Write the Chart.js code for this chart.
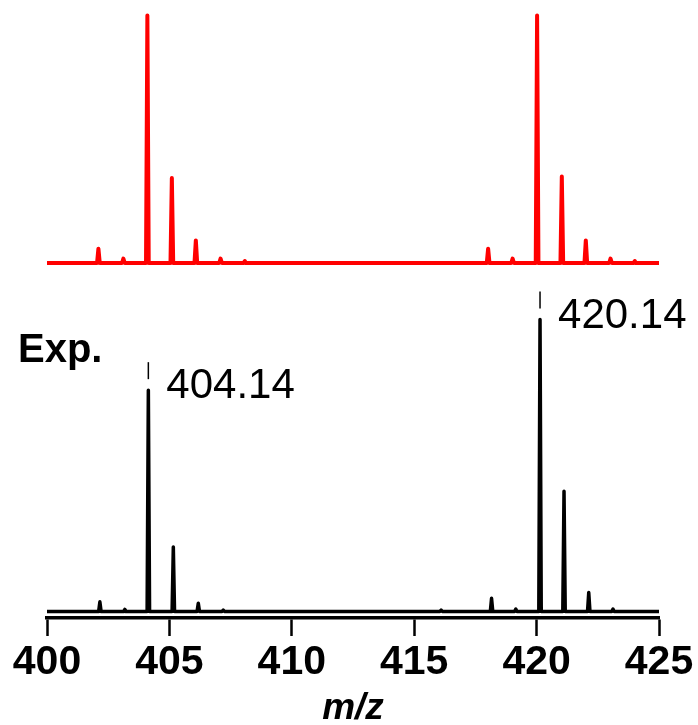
<!DOCTYPE html>
<html>
<head>
<meta charset="utf-8">
<script src="https://cdn.jsdelivr.net/npm/chart.js@4"></script>
<style>
  html, body { margin: 0; padding: 0; background: #fff; }
  canvas { display: block; }
</style>
</head>
<body>
<canvas id="spectrum" width="698" height="725"></canvas>
<script>
// simulated isotope pattern (red), intensity in % of base peak
const simMz = [402.10, 403.12, 404.10, 405.10, 406.08, 407.09, 408.08,
               418.02, 419.02, 420.02, 421.03, 422.01, 423.02, 424.01];
const simIntensity = [5.8, 1.8, 100, 34.3, 9.1, 1.8, 0.8,
                      5.8, 1.8, 100, 34.9, 9.1, 1.8, 0.8];

// experimental spectrum (black)
const expMz = [402.16, 403.18, 404.14, 405.16, 406.18, 407.20, 416.10,
               418.16, 419.15, 420.14, 421.12, 422.13, 423.12];
const expIntensity = [3.3, 0.7, 75.8, 22.1, 2.8, 0.5, 0.5,
                      4.5, 0.8, 100, 41.2, 6.5, 0.8];

const labelledPeaks = [404.14, 420.14];
const mzRange = [400, 425];
const mzTicks = [400, 405, 410, 415, 420, 425];

const FONT = '"Liberation Sans", Arial, Helvetica, sans-serif';

// turn a peak list into a line trace: baseline - apex - baseline for each peak
function stickTrace(mz, intensity, halfWidth) {
  const pts = [{ x: mzRange[0], y: 0 }];
  mz.forEach((m, i) => {
    pts.push({ x: m - halfWidth, y: 0 }, { x: m, y: intensity[i] }, { x: m + halfWidth, y: 0 });
  });
  pts.push({ x: mzRange[1], y: 0 });
  return pts;
}

// peak markers and text labels
const peakLabels = {
  id: 'peakLabels',
  afterDatasetsDraw(chart) {
    const { ctx, scales: { x, yE } } = chart;
    ctx.save();
    ctx.fillStyle = '#000';
    ctx.strokeStyle = '#000';
    ctx.textBaseline = 'alphabetic';
    labelledPeaks.forEach(m => {
      const h = expIntensity[expMz.indexOf(m)];
      const px = x.getPixelForValue(m);
      const py = yE.getPixelForValue(h);
      ctx.lineWidth = 1.5;
      ctx.beginPath();
      ctx.moveTo(px, py - 28);
      ctx.lineTo(px, py - 11);
      ctx.stroke();
      ctx.font = '42px ' + FONT;
      ctx.fillText(m.toFixed(2), px + 18, py + 8);
    });
    ctx.font = 'bold 40px ' + FONT;
    ctx.fillText('Exp.', x.left - 29, yE.getPixelForValue(85.4));
    ctx.restore();
  }
};

new Chart(document.getElementById('spectrum'), {
  type: 'line',
  data: {
    datasets: [
      {
        label: 'Simulated',
        data: stickTrace(simMz, simIntensity, 0.055),
        yAxisID: 'yS',
        borderColor: 'rgb(255, 0, 0)',
        borderWidth: 4,
        borderJoinStyle: 'round',
        pointRadius: 0,
        tension: 0
      },
      {
        label: 'Exp.',
        data: stickTrace(expMz, expIntensity, 0.05),
        yAxisID: 'yE',
        borderColor: '#000',
        borderWidth: 3.5,
        borderJoinStyle: 'round',
        pointRadius: 0,
        tension: 0
      }
    ]
  },
  options: {
    responsive: false,
    animation: false,
    devicePixelRatio: 1,
    layout: { padding: { top: 10, left: 47, right: 39, bottom: 0 } },
    plugins: { legend: { display: false }, tooltip: { enabled: false } },
    scales: {
      x: {
        type: 'linear',
        min: mzRange[0],
        max: mzRange[1],
        position: 'bottom',
        afterBuildTicks: s => { s.ticks = mzTicks.map(v => ({ value: v })); },
        afterFit: s => { s.height = 107; s.paddingLeft = 0; s.paddingRight = 0; },
        grid: {
          drawOnChartArea: false,
          drawTicks: true,
          tickLength: 18,
          tickWidth: 2.5,
          tickColor: '#000'
        },
        border: { display: true, color: '#000', width: 3.5 },
        ticks: {
          color: '#000',
          padding: 6,
          maxRotation: 0,
          autoSkip: false,
          font: { family: FONT, size: 41, weight: 'bold', lineHeight: 1 }
        },
        title: {
          display: true,
          text: 'm/z',
          color: '#000',
          padding: { top: 0, bottom: -2 },
          font: { family: FONT, size: 37, weight: 'bold', style: 'italic', lineHeight: 1 }
        }
      },
      yS: { display: false, min: -143.4, max: 102.2 },
      yE: { display: false, min: -2.23, max: 206.0 }
    }
  },
  plugins: [peakLabels]
});
</script>
</body>
</html>
